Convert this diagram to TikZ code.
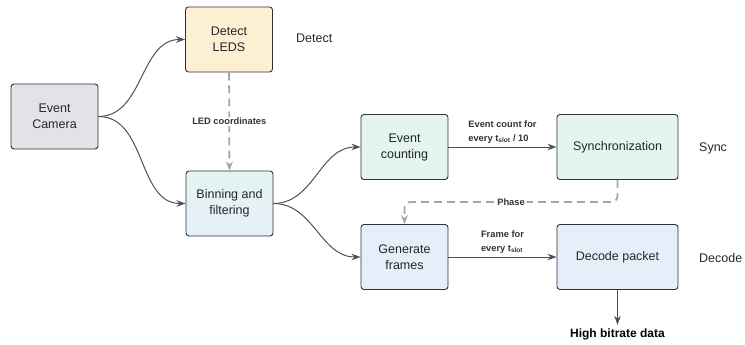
\documentclass[tikz,border=0pt]{standalone}
\usepackage{fontspec}
\setmainfont{Liberation Sans}
\usetikzlibrary{arrows.meta}
\definecolor{boxline}{HTML}{2E3138}
\definecolor{arrowgray}{HTML}{4A505C}
\definecolor{dashgray}{HTML}{A2A7AF}
\definecolor{camfill}{HTML}{E1E3E7}
\definecolor{ledfill}{HTML}{FDEFD2}
\definecolor{syncfill}{HTML}{E4F4EF}
\definecolor{decfill}{HTML}{E6EFF9}
\tikzset{
  block/.style={draw=boxline, line width=0.9pt, rounded corners=3pt, minimum width=87pt,
    minimum height=65pt, align=center, font=\fontsize{12.5}{16}\selectfont, text=black!85},
  wideblock/.style={block, minimum width=121pt},
  flow/.style={draw=arrowgray, line width=1pt, -{Stealth[length=9pt,width=6.5pt]}},
  dataflow/.style={draw=dashgray, line width=1.8pt, dash pattern=on 8pt off 5pt,
    -{Stealth[length=9pt,width=7pt]}},
  tag/.style={font=\bfseries\fontsize{9.3}{14}\selectfont, text=black!80, align=left},
  stage/.style={font=\fontsize{12.5}{15}\selectfont, anchor=west, inner sep=0pt, text=black!85}
}
\begin{document}
\begin{tikzpicture}[x=1pt,y=-1pt]
\useasboundingbox (0,0) rectangle (745,345);
% blocks
\node[block, fill=camfill] (cam) at (54.5,116.5) {Event\\Camera};
\node[block, fill=ledfill] (leds) at (229,39.5) {Detect\\LEDS};
\node[block, top color=syncfill, bottom color=decfill] (bin) at (229.5,203.5) {Binning and\\filtering};
\node[block, fill=syncfill] (count) at (404.5,147) {Event\\counting};
\node[wideblock, fill=syncfill] (sync) at (617.5,147) {Synchronization};
\node[block, fill=decfill] (gen) at (404.5,257) {Generate\\frames};
\node[wideblock, fill=decfill] (dec) at (617.5,257) {Decode packet};
% stage names
\node[stage] (sdetect) at (296,38) {Detect};
\node[stage] (ssync) at (699,148) {Sync};
\node[stage] (sdecode) at (699,258) {Decode};
\node[font=\bfseries\fontsize{12}{14}\selectfont] (out) at (617.5,334) {High bitrate data};
% connectors
\draw[flow] (cam.east) to[out=0,in=180] (leds.west);
\draw[flow] (cam.east) to[out=0,in=180] (bin.west);
\draw[flow] (bin.east) to[out=0,in=180] (count.west);
\draw[flow] (bin.east) to[out=0,in=180] (gen.west);
\draw[flow] (count) -- node[tag, above=0pt] {Event count for\\every t\textsubscript{slot} / 10} (sync);
\draw[flow] (gen) -- node[tag, above=0pt] {Frame for\\every t\textsubscript{slot}} (dec);
\draw[flow] (dec.south) -- (out.north);
\draw[dataflow] (leds) -- node[tag, fill=white, inner sep=1pt] {LED coordinates} (bin);
\draw[dataflow, rounded corners=6pt] (sync.south) |- (511,202) node[tag, fill=white, inner sep=2pt] {Phase}
  -| (gen.north);
\end{tikzpicture}
\end{document}
